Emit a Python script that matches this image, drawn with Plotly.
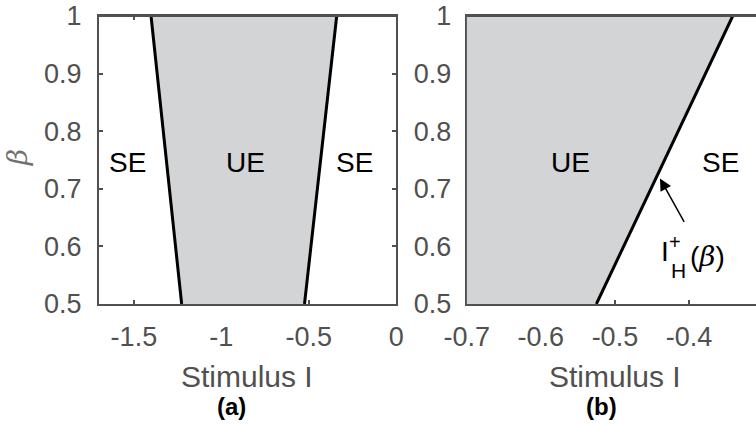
import plotly.graph_objects as go

# Stability regions of the equilibrium in the (I, beta) plane
beta = [0.5, 1.0]
i_h_minus = [-1.227, -1.402]   # lower Hopf boundary I_H^-(beta)
i_h_plus = [-0.525, -0.341]    # upper Hopf boundary I_H^+(beta)

xrange_a = [-1.7, 0.0]
xrange_b = [-0.7, -0.3096]
yrange = [0.5, 1.0]

xticks_a = [-1.5, -1.0, -0.5, 0.0]
xticklabels_a = ["-1.5", "-1", "-0.5", "0"]
xticks_b = [-0.7, -0.6, -0.5, -0.4, -0.3]
xticklabels_b = ["-0.7", "-0.6", "-0.5", "-0.4", "-0.3"]
yticks = [0.5, 0.6, 0.7, 0.8, 0.9, 1.0]
yticklabels = ["0.5", "0.6", "0.7", "0.8", "0.9", "1"]

FILL = "#d3d4d6"
AXIS = "#505050"
FONT = "Liberation Sans, Arial, sans-serif"

fig = go.Figure()

# panel (a): unstable region between the two Hopf boundaries
fig.add_trace(go.Scatter(
    x=i_h_minus + i_h_plus[::-1], y=beta + beta[::-1],
    fill="toself", fillcolor=FILL, mode="none", hoverinfo="skip",
    xaxis="x", yaxis="y"))
fig.add_trace(go.Scatter(x=i_h_minus, y=beta, mode="lines",
                         line=dict(color="black", width=3), xaxis="x", yaxis="y"))
fig.add_trace(go.Scatter(x=i_h_plus, y=beta, mode="lines",
                         line=dict(color="black", width=3), xaxis="x", yaxis="y"))

# panel (b): zoom on the upper boundary
fig.add_trace(go.Scatter(
    x=[xrange_b[0], xrange_b[0]] + i_h_plus[::-1], y=beta + beta[::-1],
    fill="toself", fillcolor=FILL, mode="none", hoverinfo="skip",
    xaxis="x2", yaxis="y2"))
fig.add_trace(go.Scatter(x=i_h_plus, y=beta, mode="lines",
                         line=dict(color="black", width=3), xaxis="x2", yaxis="y2"))

axis_common = dict(
    showline=True, linecolor=AXIS, linewidth=2, mirror="ticks",
    ticks="inside", ticklen=4, tickwidth=1.5, tickcolor=AXIS,
    showgrid=False, zeroline=False, layer="below traces", automargin=False,
    tickfont=dict(family=FONT, size=27, color=AXIS),
)

fig.update_layout(
    width=756, height=425,
    margin=dict(l=0, r=0, t=16, b=121),
    paper_bgcolor="white", plot_bgcolor="white",
    showlegend=False,
    xaxis=dict(domain=[0.1308, 0.5243], range=xrange_a, tickvals=xticks_a,
               ticktext=xticklabels_a, anchor="y", ticklabelstandoff=8, **axis_common),
    yaxis=dict(domain=[0, 1], range=yrange, tickvals=yticks,
               ticktext=yticklabels, anchor="x", ticklabelstandoff=10, **axis_common),
    xaxis2=dict(domain=[0.6173, 1.0], range=xrange_b, tickvals=xticks_b,
                ticktext=xticklabels_b, anchor="y2", ticklabelstandoff=8, **axis_common),
    yaxis2=dict(domain=[0, 1], range=yrange, tickvals=yticks,
                ticktext=yticklabels, anchor="x2", ticklabelstandoff=8,
                **{**axis_common, "mirror": False}),
)

# top frame lines stay visible over the shaded areas
for xr, yr in (("x domain", "y domain"), ("x2 domain", "y2 domain")):
    fig.add_shape(type="line", xref=xr, yref=yr, x0=0, x1=1, y0=1, y1=1,
                  line=dict(color=AXIS, width=2), layer="above")

ann = []
# region labels
region_font = dict(family=FONT, size=28, color="black")
for x, txt, ax in ((-1.534, "SE", "x"), (-0.862, "UE", "x"), (-0.241, "SE", "x"),
                   (-0.5604, "UE", "x2"), (-0.3577, "SE", "x2")):
    ann.append(dict(x=x, y=0.745, xref=ax, yref="y" if ax == "x" else "y2",
                    text=txt, showarrow=False, font=region_font))

# axis titles and panel tags
title_font = dict(family=FONT, size=30, color=AXIS)
ann.append(dict(x=247 / 756, y=-0.250, xref="paper", yref="paper", text="Stimulus I",
                showarrow=False, font=title_font, xanchor="center", yanchor="middle"))
ann.append(dict(x=615 / 756, y=-0.250, xref="paper", yref="paper", text="Stimulus I",
                showarrow=False, font=title_font, xanchor="center", yanchor="middle"))
tag_font = dict(family=FONT, size=24, color="black")
ann.append(dict(x=231 / 756, y=-0.356, xref="paper", yref="paper", text="<b>(a)</b>",
                showarrow=False, font=tag_font, xanchor="center", yanchor="middle"))
ann.append(dict(x=601 / 756, y=-0.356, xref="paper", yref="paper", text="<b>(b)</b>",
                showarrow=False, font=tag_font, xanchor="center", yanchor="middle"))
ann.append(dict(x=17 / 756, y=(304 - 158) / 288, xref="paper", yref="paper",
                text="<i>β</i>", textangle=-90, showarrow=False,
                font=dict(family="DejaVu Serif, serif", size=28, color="#707070"),
                xanchor="center", yanchor="middle"))

# arrow pointing to the upper boundary
ann.append(dict(x=-0.4392, y=0.718, xref="x2", yref="y2",
                ax=-0.4054, ay=0.640, axref="x2", ayref="y2",
                text="", showarrow=True, arrowhead=2, arrowsize=1.6,
                arrowwidth=1.5, arrowcolor="black"))
# boundary label I_H^+(beta) with stacked super/subscript
lab_font = dict(family=FONT, size=28, color="black")
ann.append(dict(x=-0.4328, y=0.5907, xref="x2", yref="y2", text="I", showarrow=False,
                font=lab_font, xanchor="center", yanchor="middle"))
ann.append(dict(x=-0.4193, y=0.6075, xref="x2", yref="y2", text="+", showarrow=False,
                font=dict(family=FONT, size=20, color="black"), xanchor="center", yanchor="middle"))
ann.append(dict(x=-0.4144, y=0.5578, xref="x2", yref="y2", text="H", showarrow=False,
                font=dict(family=FONT, size=21, color="black"), xanchor="center", yanchor="middle"))
ann.append(dict(x=-0.4009, y=0.5832, xref="x2", yref="y2",
                text="(<span style='font-family:DejaVu Serif'><i>β</i></span>)", showarrow=False,
                font=lab_font, xanchor="left", yanchor="middle"))

fig.update_layout(annotations=ann)
fig.write_html("out.html")
